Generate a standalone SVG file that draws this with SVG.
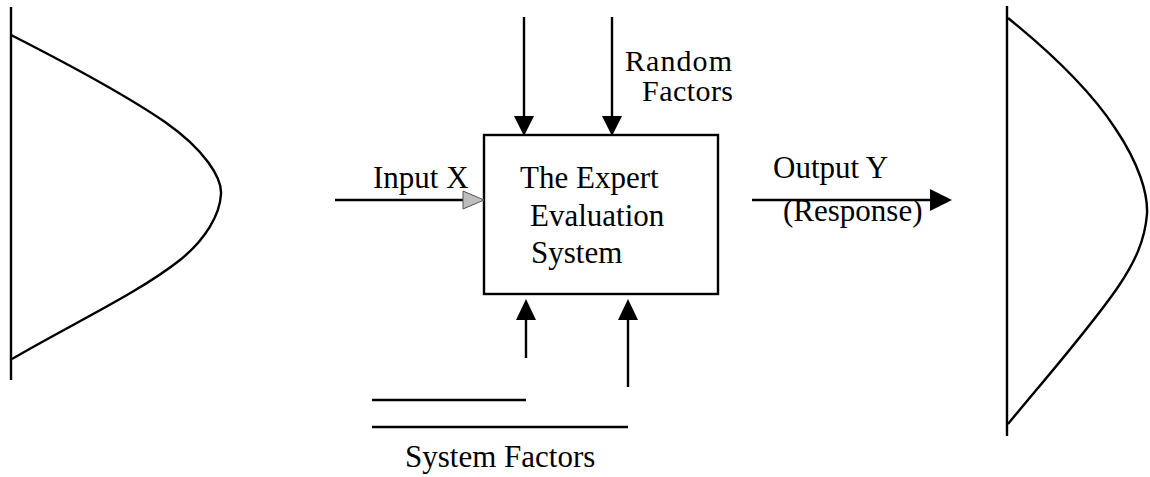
<svg xmlns="http://www.w3.org/2000/svg" width="1150" height="477" viewBox="0 0 1150 477">
  <style>
    .ln { stroke: #000; stroke-width: 2.4; fill: none; }
    .lbl { font-family: "Liberation Serif", "Times New Roman", serif; font-size: 31px; fill: #000; }
    .tight { font-size: 30px; }
  </style>
  <rect width="1150" height="477" fill="#fff"/>

  <!-- input distribution -->
  <g id="input-distribution">
    <line class="ln" x1="11" y1="7" x2="11" y2="380"/>
    <path class="ln" d="M11,35 C70,65 130,98 165,122 C205,150 222,178 221,194 C220,215 205,240 180,260 C140,292 70,325 12,359"/>
  </g>

  <!-- output distribution -->
  <g id="output-distribution">
    <line class="ln" x1="1007" y1="6" x2="1007" y2="436"/>
    <path class="ln" d="M1008,18 C1050,52 1090,90 1115,128 C1140,165 1148,195 1147,214 C1145,240 1135,262 1118,287 C1090,328 1040,385 1008,424"/>
  </g>

  <!-- central system box -->
  <g id="system">
    <rect class="ln" x="484" y="135" width="234" height="159"/>
    <text class="lbl" x="520" y="188">The Expert</text>
    <text class="lbl" x="530" y="226">Evaluation</text>
    <text class="lbl" x="531" y="263">System</text>
  </g>

  <g id="random-factors">
    <text class="lbl tight" x="625" y="71" textLength="107">Random</text>
    <text class="lbl tight" x="642" y="101" textLength="91">Factors</text>
  </g>

  <g id="input-label">
    <text class="lbl" x="373" y="188">Input X</text>
  </g>

  <g id="output-label">
    <text class="lbl" x="773" y="178">Output Y</text>
    <text class="lbl" x="783" y="221">(Response)</text>
  </g>

  <g id="system-factors">
    <line class="ln" x1="372" y1="400" x2="526" y2="400"/>
    <line class="ln" x1="372" y1="427" x2="628" y2="427"/>
    <text class="lbl" x="405" y="467">System Factors</text>
  </g>

  <!-- connectors -->
  <g id="connectors">
    <!-- random factor inputs -->
    <line class="ln" x1="524" y1="17" x2="524" y2="118"/>
    <path d="M514,116 L534,116 L524,136 Z" fill="#000"/>
    <line class="ln" x1="612" y1="17" x2="612" y2="118"/>
    <path d="M602,116 L622,116 L612,136 Z" fill="#000"/>

    <!-- input X -->
    <line class="ln" x1="335" y1="200" x2="465" y2="200"/>
    <path d="M463,191 L484,200 L463,209 Z" fill="#bdbdbd" stroke="#555" stroke-width="1"/>

    <!-- output Y -->
    <line class="ln" x1="752" y1="200" x2="932" y2="200"/>
    <path d="M930,189 L952,200 L930,211 Z" fill="#000"/>

    <!-- system factor inputs -->
    <line class="ln" x1="526" y1="358" x2="526" y2="318"/>
    <path d="M516,320 L536,320 L526,299 Z" fill="#000"/>
    <line class="ln" x1="628" y1="387" x2="628" y2="318"/>
    <path d="M618,320 L638,320 L628,299 Z" fill="#000"/>
  </g>
</svg>
